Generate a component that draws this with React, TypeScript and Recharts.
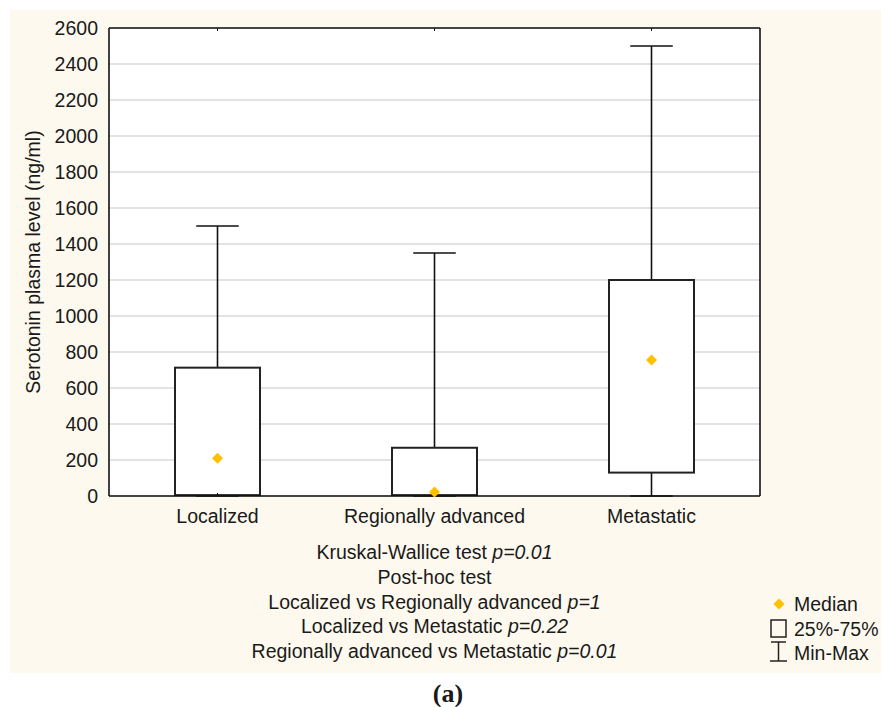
import React from 'react';
import { ComposedChart, Bar, Scatter, XAxis, YAxis, CartesianGrid } from 'recharts';

const categories = ['Localized', 'Regionally advanced', 'Metastatic'];
const minValues = [0, 0, 0];
const q1Values = [5, 5, 130];
const medianValues = [210, 22, 755];
const q3Values = [713, 268, 1200];
const maxValues = [1500, 1350, 2500];
const yTicks = [0, 200, 400, 600, 800, 1000, 1200, 1400, 1600, 1800, 2000, 2200, 2400, 2600];

const statLines = [
  { text: 'Kruskal-Wallice test ', p: 'p=0.01' },
  { text: 'Post-hoc test', p: '' },
  { text: 'Localized vs Regionally advanced ', p: 'p=1' },
  { text: 'Localized vs Metastatic ', p: 'p=0.22' },
  { text: 'Regionally advanced vs Metastatic ', p: 'p=0.01' },
];
const legendItems = ['Median', '25%-75%', 'Min-Max'];

const data = categories.map((name, i) => ({
  name,
  min: minValues[i],
  q1: q1Values[i],
  median: medianValues[i],
  q3: q3Values[i],
  max: maxValues[i],
}));

const FONT = '"Liberation Sans", Arial, sans-serif';
const MEDIAN_COLOR = '#FFC000';
const INK = '#1a1a1a';

const BoxShape = (props: any) => {
  const { x, y, width, height, index } = props;
  const d = props.payload && props.payload.max !== undefined ? props.payload : data[index];
  const top = Math.min(y, y + height);
  const bottom = Math.max(y, y + height);
  const pix = (v: number) => bottom - ((v - d.min) / (d.max - d.min)) * (bottom - top);
  const cx = x + width / 2;
  const capHalf = width / 4;
  const yq1 = pix(d.q1);
  const yq3 = pix(d.q3);
  return (
    <g>
      <line x1={cx} x2={cx} y1={top} y2={yq3} stroke="#111" strokeWidth={1.6} />
      <line x1={cx} x2={cx} y1={yq1} y2={bottom} stroke="#111" strokeWidth={1.6} />
      <line x1={cx - capHalf} x2={cx + capHalf} y1={top} y2={top} stroke="#111" strokeWidth={1.6} />
      <line x1={cx - capHalf} x2={cx + capHalf} y1={bottom} y2={bottom} stroke="#111" strokeWidth={1.6} />
      <rect x={x} y={yq3} width={width} height={yq1 - yq3} fill="#ffffff" stroke="#222" strokeWidth={2} />
    </g>
  );
};

const Diamond = (props: any) => {
  const { cx, cy } = props;
  const r = 5.5;
  return (
    <polygon
      points={`${cx},${cy - r} ${cx + r},${cy} ${cx},${cy + r} ${cx - r},${cy}`}
      fill={MEDIAN_COLOR}
    />
  );
};

const emptyFmt = () => '';

export default function App() {
  return (
    <div style={{ position: 'absolute', left: 0, top: 0, width: 881, height: 707, background: '#ffffff' }}>
      <div style={{ position: 'absolute', left: 10, top: 10, width: 871, height: 663, background: '#FDF9EE' }} />
      <div style={{ position: 'absolute', left: 0, top: 0 }}>
        <ComposedChart
          width={881}
          height={707}
          data={data}
          margin={{ top: 28, right: 121, left: 0, bottom: 181 }}
        >
          <CartesianGrid
            horizontal
            vertical={false}
            stroke="#d9d9d9"
            strokeWidth={1.4}
            fill="#ffffff"
            fillOpacity={1}
          />
          <XAxis
            dataKey="name"
            type="category"
            height={30}
            axisLine={{ stroke: '#111', strokeWidth: 1.6 }}
            tickLine={false}
            tickSize={0}
            tickMargin={13}
            tick={{ fontSize: 19.5, fill: INK, fontFamily: FONT }}
          />
          <XAxis
            xAxisId="top"
            dataKey="name"
            type="category"
            orientation="top"
            mirror
            axisLine={{ stroke: '#111', strokeWidth: 1.6 }}
            tickLine={{ stroke: '#111' }}
            tickSize={3}
            tickFormatter={emptyFmt}
          />
          <XAxis
            xAxisId="bottomTicks"
            dataKey="name"
            type="category"
            orientation="bottom"
            mirror
            axisLine={false}
            tickLine={{ stroke: '#111' }}
            tickSize={3}
            tickFormatter={emptyFmt}
          />
          <YAxis
            type="number"
            domain={[0, 2600]}
            ticks={yTicks}
            interval={0}
            width={109}
            axisLine={{ stroke: '#111', strokeWidth: 1.6 }}
            tickLine={false}
            tickSize={0}
            tickMargin={11}
            tick={{ fontSize: 19.5, fill: INK, fontFamily: FONT }}
          />
          <YAxis
            yAxisId="right"
            type="number"
            orientation="right"
            mirror
            domain={[0, 2600]}
            ticks={yTicks}
            interval={0}
            axisLine={{ stroke: '#111', strokeWidth: 1.6 }}
            tickLine={{ stroke: '#111', strokeWidth: 1.4 }}
            tickSize={4}
            tickFormatter={emptyFmt}
          />
          <Bar
            dataKey={(d: any) => [d.min, d.max]}
            barSize={85}
            shape={BoxShape}
            isAnimationActive={false}
          />
          <Scatter dataKey="median" shape={Diamond} fill={MEDIAN_COLOR} isAnimationActive={false} />
        </ComposedChart>
      </div>
      <svg
        width={881}
        height={707}
        style={{ position: 'absolute', left: 0, top: 0, pointerEvents: 'none' }}
      >
        <text
          x={33}
          y={262}
          transform="rotate(-90, 33, 262)"
          textAnchor="middle"
          dominantBaseline="central"
          fontSize={19.5}
          fontFamily={FONT}
          fill={INK}
        >
          Serotonin plasma level (ng/ml)
        </text>
        {statLines.map((l, i) => (
          <text
            key={i}
            x={434.5}
            y={552 + i * 24.8}
            textAnchor="middle"
            dominantBaseline="central"
            fontSize={19.5}
            fontFamily={FONT}
            fill={INK}
          >
            {l.text}
            {l.p ? <tspan fontStyle="italic">{l.p}</tspan> : null}
          </text>
        ))}
        <polygon points="779,598.5 784.5,604 779,609.5 773.5,604" fill={MEDIAN_COLOR} />
        <rect x={771} y={620} width={15} height={17} fill="none" stroke="#222" strokeWidth={1.5} />
        <line x1={778.5} x2={778.5} y1={642} y2={661} stroke="#222" strokeWidth={1.5} />
        <line x1={771} x2={786} y1={642} y2={642} stroke="#222" strokeWidth={1.5} />
        <line x1={770} x2={787} y1={661} y2={661} stroke="#222" strokeWidth={1.5} />
        {legendItems.map((t, i) => (
          <text
            key={t}
            x={794}
            y={604 + i * 24.5}
            dominantBaseline="central"
            fontSize={19.5}
            fontFamily={FONT}
            fill={INK}
          >
            {t}
          </text>
        ))}
        <text
          x={448}
          y={693}
          textAnchor="middle"
          dominantBaseline="central"
          fontSize={26}
          fontWeight="bold"
          fontFamily='"Liberation Serif", "Times New Roman", serif'
          fill={INK}
        >
          (a)
        </text>
      </svg>
    </div>
  );
}
